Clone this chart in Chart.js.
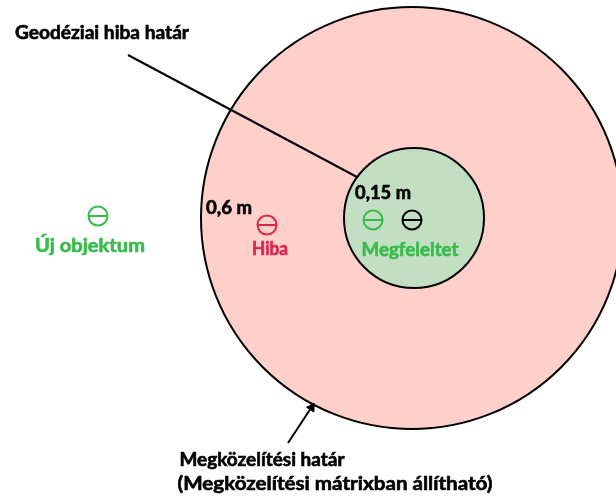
<!DOCTYPE html>
<html>
<head>
<meta charset="utf-8">
<script src="https://cdn.jsdelivr.net/npm/chart.js@4/dist/chart.umd.min.js"></script>
<style>
html,body{margin:0;padding:0;background:#fff;}
canvas{display:block;}
</style>
</head>
<body>
<canvas id="c" width="616" height="497"></canvas>
<script>
// Diagram coordinate system: origin at the centre of the two zones (units ~ px of the reference)
const zoneNames   = ["Megközelítési határ", "Geodéziai hiba határ"];
const zoneCentersX = [0, 2];
const zoneCentersY = [0, 0];
const zoneRadii   = [211, 70];
const zoneFills   = ["#ffd0ca", "#c2dfc1"];

const objectNames = ["Új objektum", "Hiba", "Megfeleltet", "Meglévő"];
const objectX     = [-314, -145, -39, 0];
const objectY     = [2, -7, -2, -2];
const objectColors = ["#38bb4c", "#d8284e", "#38bb4c", "#000000"];

const leaderX = [-284, -55];
const leaderY = [163, 41];
const arrowX  = [-124, -99];
const arrowY  = [-225, -187];

const labelTexts = ["Geodéziai hiba határ", "0,15 m", "0,6 m", "Hiba", "Megfeleltet", "Új objektum",
                    "Megközelítési határ", "(Megközelítési mátrixban állítható)"];
const labelX     = [-310, -29, -183, -142, -2, -322, -150, -77];
const labelY     = [185, 25, 10, -31, -32, -28, -242, -266];
const labelWidth = [174, 56, 46, 36, 97, 110, 165, 315];
const labelColors = ["#000", "#000", "#000", "#d8284e", "#38bb4c", "#38bb4c", "#000", "#000"];

function pxRadius(ctx, r) {
  const s = ctx.chart.scales.x;
  return s.getPixelForValue(r) - s.getPixelForValue(0);
}

const datasets = [];
zoneNames.forEach((n, i) => {
  datasets.push({
    label: n,
    data: [{x: zoneCentersX[i], y: zoneCentersY[i]}],
    pointRadius: ctx => pxRadius(ctx, zoneRadii[i]),
    pointHoverRadius: ctx => pxRadius(ctx, zoneRadii[i]),
    pointBackgroundColor: zoneFills[i],
    pointBorderColor: "#000",
    pointBorderWidth: 2,
    showLine: false,
    clip: false,
    order: 20 - i
  });
});
datasets.push({
  label: "leader",
  data: leaderX.map((x, i) => ({x, y: leaderY[i]})),
  showLine: true, borderColor: "#000", borderWidth: 2, pointRadius: 0, order: 5
});
datasets.push({
  label: "arrow",
  data: arrowX.map((x, i) => ({x, y: arrowY[i]})),
  showLine: true, borderColor: "#000", borderWidth: 2, pointRadius: 0, order: 5
});
datasets.push({
  label: "arrowhead",
  data: [{x: arrowX[1] - 1.5, y: arrowY[1] - 2.5}],
  showLine: false, pointStyle: "triangle", pointRadius: 5, pointRotation: 33,
  pointBackgroundColor: "#000", pointBorderColor: "#000", pointBorderWidth: 1, order: 4
});
objectNames.forEach((n, i) => {
  datasets.push({
    label: n,
    data: [{x: objectX[i], y: objectY[i]}],
    showLine: false, pointStyle: "circle", pointRadius: 9.5,
    pointBackgroundColor: "rgba(0,0,0,0)", pointBorderColor: objectColors[i], pointBorderWidth: 2, order: 2
  });
  datasets.push({
    label: n + " bar",
    data: [{x: objectX[i], y: objectY[i]}],
    showLine: false, pointStyle: "line", pointRadius: 9.5,
    pointBorderColor: objectColors[i], pointBorderWidth: 2, order: 1
  });
});

const labelPlugin = {
  id: "labels",
  afterDatasetsDraw(chart) {
    const c = chart.ctx, sx = chart.scales.x, sy = chart.scales.y;
    c.save();
    labelTexts.forEach((t, i) => {
      const px = sx.getPixelForValue(labelX[i]);
      const py = sy.getPixelForValue(labelY[i]);
      c.font = "bold 18px Lato, 'Open Sans', sans-serif";
      c.fillStyle = labelColors[i];
      c.strokeStyle = labelColors[i];
      c.lineWidth = 0.6;
      c.textAlign = "center";
      c.textBaseline = "middle";
      const w = c.measureText(t).width;
      const k = labelWidth[i] / w;
      c.save();
      c.translate(px, py);
      c.scale(k, 1);
      c.fillText(t, 0, 0);
      c.strokeText(t, 0, 0);
      c.restore();
    });
    c.restore();
  }
};

new Chart(document.getElementById("c"), {
  type: "scatter",
  data: { datasets },
  options: {
    responsive: false,
    animation: false,
    devicePixelRatio: 1,
    layout: { padding: 0, autoPadding: false },
    plugins: { legend: { display: false }, tooltip: { enabled: false } },
    events: [],
    scales: {
      x: { type: "linear", min: -412, max: 204, display: false },
      y: { type: "linear", min: -279, max: 218, display: false }
    }
  },
  plugins: [labelPlugin]
});
</script>
</body>
</html>
